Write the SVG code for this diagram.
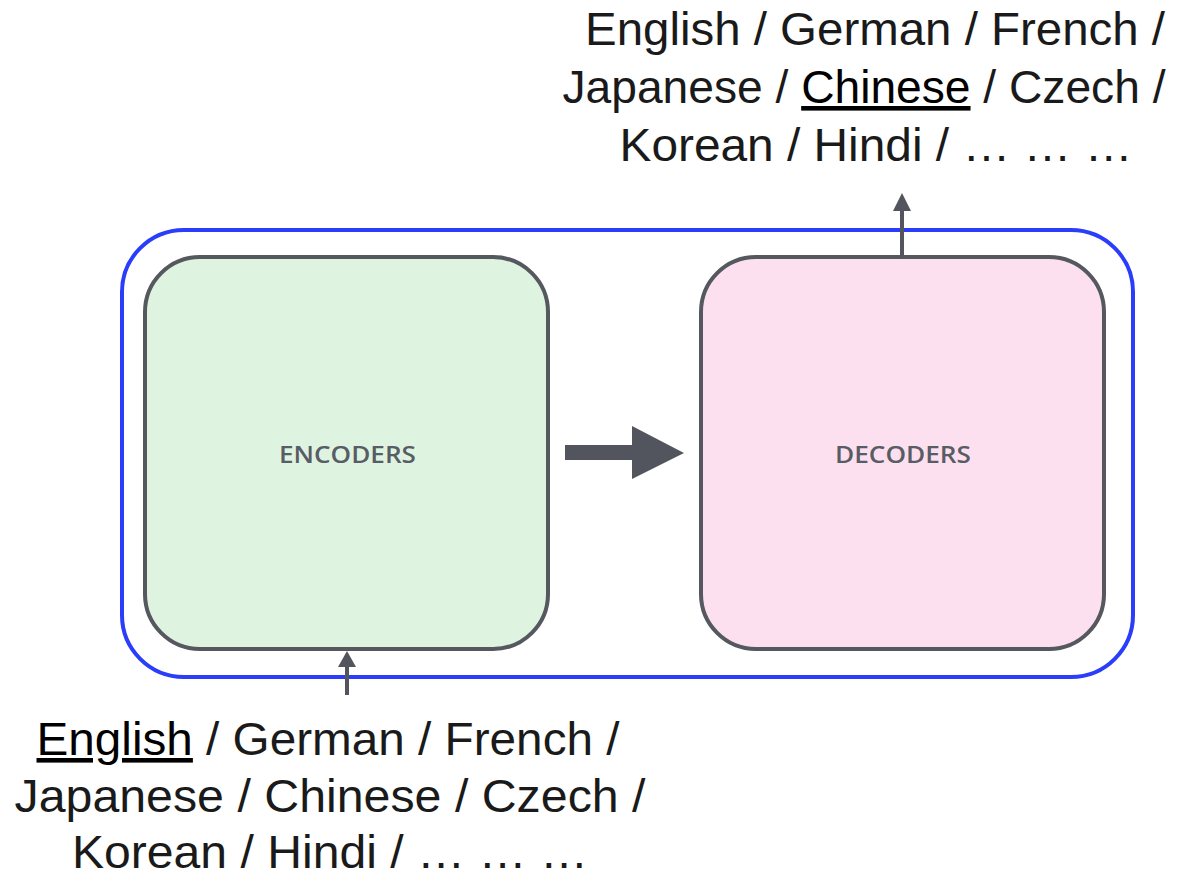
<svg xmlns="http://www.w3.org/2000/svg" width="1200" height="877" viewBox="0 0 1200 877">
  <defs>
    <style>
      .lang { font-family: "Liberation Sans", Arial, sans-serif; font-weight: 400; font-size: 46px; fill: #1a1a1a; text-anchor: middle; }
      .em { fill: #000; text-decoration: underline; }
      .box { stroke: #55585f; stroke-width: 4; }
      .label { font-family: "Open Sans", "Liberation Sans", sans-serif; font-weight: 600; font-size: 22.5px; fill: #585c64; text-anchor: middle; }
      .conn { stroke: #52555e; stroke-width: 4; fill: none; }
      .head { fill: #52555e; }
    </style>
  </defs>
  <rect width="1200" height="877" fill="#ffffff"/>

  <g id="container">
    <rect x="122" y="230" width="1011" height="447" rx="62" ry="62" fill="none" stroke="#2a3dfa" stroke-width="4"/>
  </g>

  <g id="encoders">
    <rect class="box" x="145" y="257" width="403" height="392" rx="55" ry="55" fill="#dff4e0"/>
    <text class="label" x="347.5" y="462.5" textLength="137" lengthAdjust="spacingAndGlyphs">ENCODERS</text>
  </g>

  <g id="decoders">
    <rect class="box" x="701" y="257" width="403" height="392" rx="55" ry="55" fill="#fde0ef"/>
    <text class="label" x="903" y="462.5" textLength="136" lengthAdjust="spacingAndGlyphs">DECODERS</text>
  </g>

  <g id="connectors">
    <polygon class="head" points="565,445 632,445 632,426 684,453 632,479 632,460 565,460"/>
    <line class="conn" x1="902" y1="257" x2="902" y2="208"/>
    <polygon class="head" points="902,193 911,211 893,211"/>
    <line class="conn" x1="347" y1="695" x2="347" y2="662"/>
    <polygon class="head" points="347,651 356,667 338,667"/>
  </g>

  <g id="output-languages">
    <text class="lang" x="875" y="45" textLength="580" lengthAdjust="spacingAndGlyphs">English / German / French /</text>
    <text class="lang" x="864" y="103" textLength="603" lengthAdjust="spacingAndGlyphs">Japanese / <tspan class="em">Chinese</tspan> / Czech /</text>
    <text class="lang" x="876" y="161" textLength="513" lengthAdjust="spacingAndGlyphs">Korean / Hindi / … … …</text>
  </g>

  <g id="input-languages">
    <text class="lang" x="328" y="755" textLength="583" lengthAdjust="spacingAndGlyphs"><tspan class="em">English</tspan> / German / French /</text>
    <text class="lang" x="330" y="812" textLength="631" lengthAdjust="spacingAndGlyphs">Japanese / Chinese / Czech /</text>
    <text class="lang" x="330" y="868" textLength="516" lengthAdjust="spacingAndGlyphs">Korean / Hindi / … … …</text>
  </g>
</svg>
